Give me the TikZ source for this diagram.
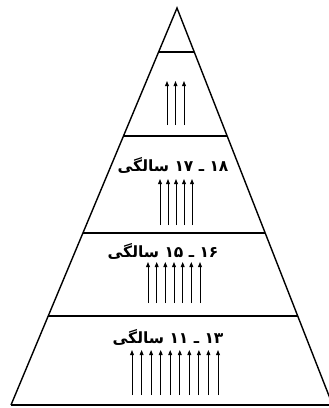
\documentclass[tikz,border=0pt]{standalone}
\usepackage{fontspec}
\newfontfamily\arabicfont[Script=Arabic]{DejaVu Sans}
\TeXXeTstate=1
\usetikzlibrary{arrows.meta,calc}
\begin{document}
\begin{tikzpicture}[x=1pt,y=-1pt,
  side/.style={line width=1.4pt},
  divider/.style={line width=1.2pt},
  up/.style={line width=0.9pt,-{Triangle[length=5pt,width=3.8pt]}},
  lbl/.style={font=\arabicfont\bfseries\fontsize{15.5}{17}\selectfont, inner sep=0pt}]
\useasboundingbox (0,0) rectangle (329,408);
\coordinate (apex) at (177,8);
\coordinate (bl) at (11,405);
\coordinate (br) at (332.6,405);
\draw[side] (bl) -- (apex) -- (br);
\draw[side] (bl) -- (br);
\foreach \t/\n in {0.1108/1,0.3224/2,0.5668/3,0.7758/4}
  \draw[divider] ($(apex)!\t!(bl)$) coordinate (d\n l) -- ($(apex)!\t!(br)$) coordinate (d\n r);
\node[lbl] (t3) at (173,165) {\beginR ۱۸ ـ ۱۷ سالگی\endR};
\node[lbl] (t4) at (163,251) {\beginR ۱۶ ـ ۱۵ سالگی\endR};
\node[lbl] (t5) at (168,337) {\beginR ۱۳ ـ ۱۱ سالگی\endR};
\foreach \x [count=\i] in {167,175.5,184}
  {\coordinate (a2b\i) at (\x,125); \coordinate (a2t\i) at (\x,81); \draw[up] (a2b\i) -- (a2t\i);}
\foreach \x [count=\i] in {160,168,176,184,192}
  {\coordinate (a3b\i) at (\x,225); \coordinate (a3t\i) at (\x,179); \draw[up] (a3b\i) -- (a3t\i);}
\foreach \x [count=\i] in {148,156.7,165.3,174,182.7,191.3,200}
  {\coordinate (a4b\i) at (\x,303); \coordinate (a4t\i) at (\x,262); \draw[up] (a4b\i) -- (a4t\i);}
\foreach \x [count=\i] in {132,141.6,151.1,160.7,170.2,179.8,189.3,198.9,208.4,218}
  {\coordinate (a5b\i) at (\x,395); \coordinate (a5t\i) at (\x,350); \draw[up] (a5b\i) -- (a5t\i);}
\end{tikzpicture}
\end{document}
